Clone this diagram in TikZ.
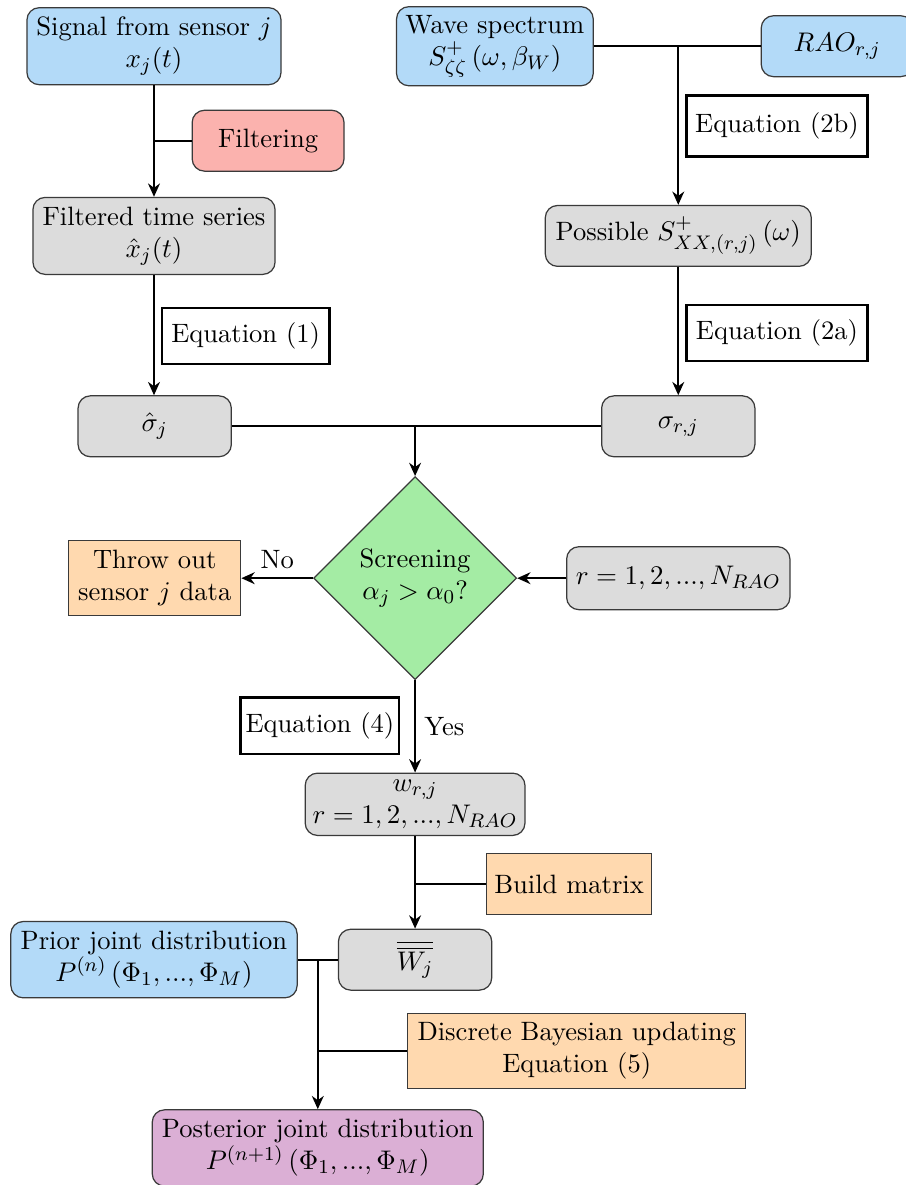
\documentclass[tikz,border=0pt]{standalone}
\usepackage{amsmath}
\usetikzlibrary{shapes.geometric, arrows.meta, positioning, calc}
\definecolor{colorSource}{HTML}{B3DAF8}
\definecolor{colorProcess}{HTML}{DCDCDC}
\definecolor{colorFilter}{HTML}{FBB2AE}
\definecolor{colorAction}{HTML}{FFD9AF}
\definecolor{colorCheck}{HTML}{A4ECA4}
\definecolor{colorResult}{HTML}{DBAFD5}
\definecolor{bordeGris}{HTML}{3A3A3A}

\begin{document}
\begin{tikzpicture}[
        font=\fontsize{10.8pt}{13pt}\selectfont,
        box/.style={draw=bordeGris, line width=0.5pt, rounded corners=5pt, align=center,
            inner sep=2pt, minimum height=0.87cm},
        src/.style={box, fill=colorSource},
        proc/.style={box, fill=colorProcess},
        flt/.style={box, fill=colorFilter},
        act/.style={box, fill=colorAction, rounded corners=0pt},
        res/.style={box, fill=colorResult, minimum height=1.09cm},
        chk/.style={draw=bordeGris, line width=0.5pt, fill=colorCheck, diamond, aspect=1,
            align=center, inner sep=0pt, minimum width=2.9cm, minimum height=2.9cm},
        eqn/.style={draw=black, line width=1pt, fill=white, align=center,
            inner sep=2pt, minimum height=0.8cm},
        rel/.style={-{Stealth[length=1.9mm, width=1.7mm]}, line width=0.8pt},
        lnk/.style={line width=0.8pt}
    ]
        \useasboundingbox (0,0) rectangle (12.943,-16.929);

        % left column
        \node[src, minimum width=3.63cm, minimum height=1.1cm] (signal) at (2.20,-0.66) {Signal from sensor $j$\\$x_j(t)$};
        \node[flt, minimum width=2.17cm] (filter) at (3.83,-2.01) {Filtering};
        \node[proc, minimum width=3.46cm, minimum height=1.1cm] (filtered) at (2.20,-3.37) {Filtered time series\\$\hat{x}_j(t)$};
        \node[eqn, minimum width=2.39cm] (eqone) at (3.51,-4.80) {Equation (1)};
        \node[proc, minimum width=2.19cm] (sighat) at (2.21,-6.09) {$\hat{\sigma}_j$};

        % right column
        \node[src, minimum width=2.81cm, minimum height=1.13cm] (wave) at (7.07,-0.66) {Wave spectrum\\$S^{+}_{\zeta\zeta}\left(\omega,\beta_W\right)$};
        \node[src, minimum width=2.17cm] (rao) at (11.96,-0.66) {$RAO_{r,j}$};
        \node[eqn, minimum width=2.59cm, minimum height=0.87cm] (eqtwob) at (11.10,-1.80) {Equation (2b)};
        \node[proc, minimum width=3.80cm] (poss) at (9.69,-3.37) {Possible $S^{+}_{XX,(r,j)}\left(\omega\right)$};
        \node[eqn, minimum width=2.59cm] (eqtwoa) at (11.10,-4.76) {Equation (2a)};
        \node[proc, minimum width=2.19cm] (sigrj) at (9.69,-6.09) {$\sigma_{r,j}$};

        % screening
        \node[chk] (screen) at (5.93,-8.26) {Screening\\$\alpha_j>\alpha_0$?};
        \node[act, minimum width=2.46cm, minimum height=1.07cm] (throw) at (2.21,-8.26) {Throw out\\sensor $j$ data};
        \node[proc, minimum width=3.19cm, minimum height=0.9cm] (rlist) at (9.69,-8.26) {$r=1,2,...,N_{RAO}$};
        \node[eqn, minimum width=2.24cm, minimum height=0.81cm] (eqfour) at (4.57,-10.37) {Equation (4)};
        \node[proc, minimum width=3.14cm, minimum height=0.89cm] (weights) at (5.93,-11.49) {$w_{r,j}$\\$r=1,2,...,N_{RAO}$};
        \node[act, minimum width=2.36cm] (build) at (8.13,-12.63) {Build matrix};
        \node[proc, minimum width=2.19cm] (wmat) at (5.93,-13.71) {$\overline{\overline{W_j}}$};

        % updating
        \node[src, minimum width=4.09cm, minimum height=1.09cm] (prior) at (2.20,-13.71) {Prior joint distribution\\$P^{(n)}\left(\Phi_1,...,\Phi_M\right)$};
        \node[act, minimum width=4.83cm, minimum height=1.07cm] (bayes) at (8.24,-15.01) {Discrete Bayesian updating\\Equation (5)};
        \node[res, minimum width=4.73cm] (post) at (4.54,-16.40) {Posterior joint distribution\\$P^{(n+1)}\left(\Phi_1,...,\Phi_M\right)$};

        \draw[rel] (signal) -- (filtered);
        \draw[lnk] (filter) -- (filter -| signal);
        \draw[rel] (filtered) -- (filtered |- sighat.north);

        \draw[lnk] (wave) -- (rao);
        \draw[rel] (poss |- wave) -- (poss);
        \draw[rel] (poss) -- (sigrj);

        \draw[lnk] (sighat) -- (sigrj);
        \draw[rel] (screen |- sighat) -- (screen);
        \draw[rel] (screen) -- node[above]{No} (throw);
        \draw[rel] (rlist) -- (screen);
        \draw[rel] (screen) -- node[right]{Yes} (weights);

        \draw[rel] (weights) -- (wmat);
        \draw[lnk] (build) -- (build -| weights);

        \draw[lnk] (prior) -- (wmat);
        \draw[rel] (post |- prior) -- (post);
        \draw[lnk] (bayes) -- (bayes -| post);
    \end{tikzpicture}
\end{document}
